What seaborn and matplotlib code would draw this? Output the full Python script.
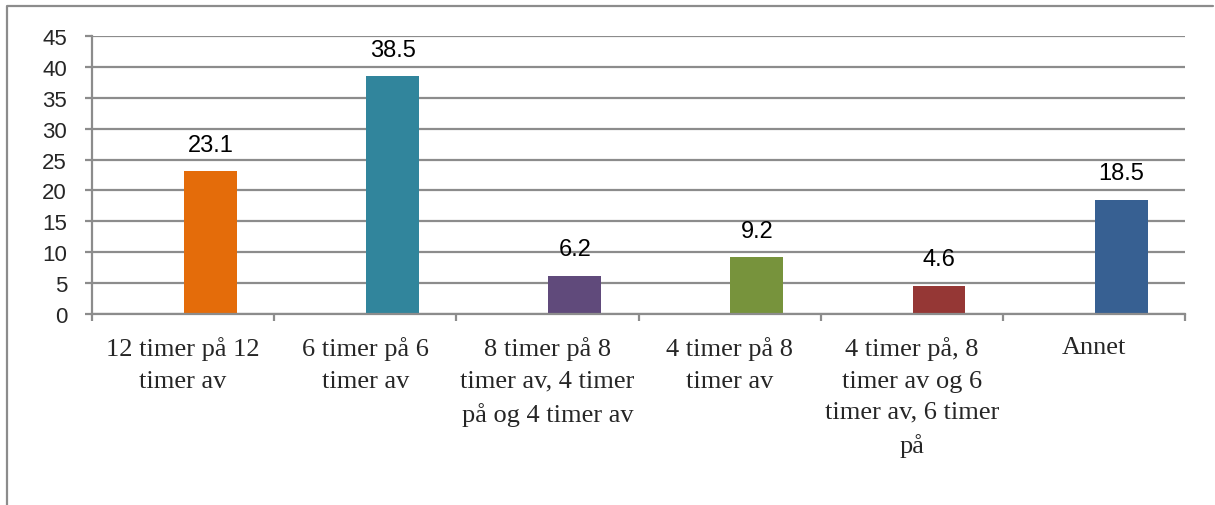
import seaborn as sns
import numpy as np
from matplotlib import pyplot as plt
from matplotlib.lines import Line2D
import pandas as pd

categories = [
    '12 timer på 12\ntimer av',
    '6 timer på 6\ntimer av',
    '8 timer på 8\ntimer av, 4 timer\npå og 4 timer av',
    '4 timer på 8\ntimer av',
    '4 timer på, 8\ntimer av og 6\ntimer av, 6 timer\npå',
    'Annet',
]
values = [23.1, 38.5, 6.2, 9.2, 4.6, 18.5]
value_labels = ['23.1', '38.5', '6.2', '9.2', '4.6', '18.5']
colors = ['#e46c0a', '#31859c', '#604a7b', '#77933c', '#953735', '#376092']

grid_col = '#8c8c8c'

sns.set_theme(style="white")
plt.rcParams['font.family'] = ['Liberation Sans', 'DejaVu Sans']

df = pd.DataFrame({'kategori': categories, 'verdi': values})

fig = plt.figure(figsize=(12.15, 5.06), dpi=100)
ax = fig.add_axes([92 / 1215, 1 - 315 / 506, 1093 / 1215, 278 / 506])

sns.barplot(data=df, x='kategori', y='verdi', hue='kategori', palette=colors,
            width=0.29, legend=False, ax=ax, saturation=1)

# bars sit right of the category centre, like the Excel original
for p in ax.patches:
    p.set_x(p.get_x() + 0.15)
    p.set_linewidth(0)

for c, lab in zip(ax.containers, value_labels):
    ax.bar_label(c, labels=[lab], padding=11, fontsize=17, color='black')

ax.set_xlim(-0.5, len(categories) - 0.5)
ax.set_ylim(0, 45)
ax.set_yticks(np.arange(0, 46, 5))
ax.set_xticks(np.arange(len(categories)))
ax.set_xticks(np.arange(len(categories) + 1) - 0.5, minor=True)
ax.set_xlabel('')
ax.set_ylabel('')

ax.yaxis.grid(True, color=grid_col, linewidth=1.6)
ax.set_axisbelow(True)
for s in ['top', 'right']:
    ax.spines[s].set_visible(False)
for s in ['left', 'bottom']:
    ax.spines[s].set_color(grid_col)
    ax.spines[s].set_linewidth(1.6)

ax.tick_params(axis='y', which='major', left=True, length=5, width=1.6,
               color=grid_col, pad=13, labelsize=16)
ax.tick_params(axis='x', which='major', bottom=False, pad=10)
ax.tick_params(axis='x', which='minor', bottom=True, length=5, width=1.6,
               color=grid_col)
for t in ax.get_xticklabels():
    t.set_fontfamily(['Liberation Serif', 'DejaVu Serif'])
    t.set_fontsize(19)
    t.set_linespacing(1.55)
    t.set_verticalalignment('top')

# chart area border (left and top visible in the reference)
fig.add_artist(Line2D([7 / 1215, 7 / 1215, 1213 / 1215], [0, 1 - 7 / 506, 1 - 7 / 506],
                      color=grid_col, linewidth=1.6, transform=fig.transFigure))

fig.savefig('out.png', dpi=100, facecolor='white')
